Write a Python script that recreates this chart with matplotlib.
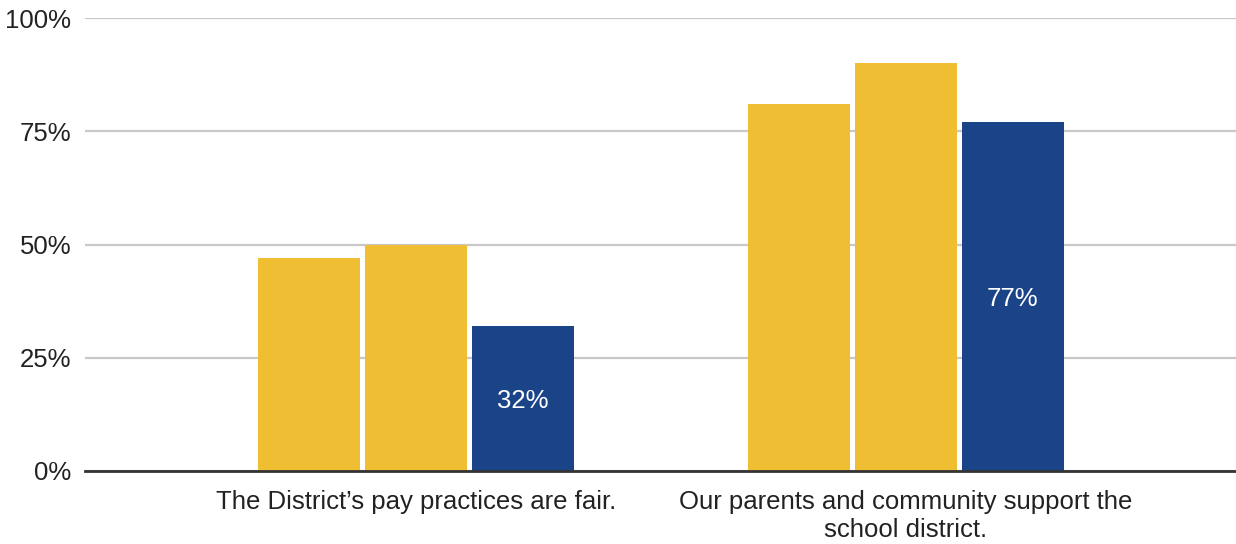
import matplotlib.pyplot as plt
import numpy as np

categories = ["The District\u2019s pay practices are fair.",
              "Our parents and community support the\nschool district."]
series1 = [47, 81]
series2 = [50, 90]
series3 = [32, 77]
yticks = [0, 25, 50, 75, 100]
ytick_labels = ["0%", "25%", "50%", "75%", "100%"]

plt.rcParams['font.family'] = ['Liberation Sans', 'DejaVu Sans']

fig = plt.figure(figsize=(12.36, 5.44), dpi=100)
ax = fig.add_axes([85/1236, 73/544, (1236-85)/1236, (471-18)/544])

x = np.arange(len(categories))
w = 0.208
step = 0.218
yellow = '#EFBE33'
blue = '#1B4388'
ax.bar(x - step, series1, width=w, color=yellow, zorder=3)
ax.bar(x, series2, width=w, color=yellow, zorder=3)
b3 = ax.bar(x + step, series3, width=w, color=blue, zorder=3)
for rect, v in zip(b3, series3):
    ax.text(rect.get_x() + rect.get_width()/2, v/2, f"{v}%", color='white',
            ha='center', va='center_baseline', fontsize=18.5, zorder=4)

ax.set_xlim(-(416-85)/490, 1 + (1236-906)/490)
ax.set_ylim(0, 100)
ax.set_yticks(yticks)
ax.set_yticklabels(ytick_labels, fontsize=18.5, color='#222222')
ax.set_xticks(x)
ax.set_xticklabels(categories, fontsize=18.5, color='#222222', linespacing=1.2)
ax.tick_params(axis='both', length=0)
ax.tick_params(axis='y', pad=10)
ax.tick_params(axis='x', pad=14)
ax.yaxis.grid(True, color='#c8c8c8', linewidth=1.6, zorder=0)
for s in ['top', 'right', 'left']:
    ax.spines[s].set_visible(False)
ax.spines['bottom'].set_color('#333333')
ax.spines['bottom'].set_linewidth(2)
ax.spines['bottom'].set_zorder(5)

fig.savefig('out.png', dpi=100)
